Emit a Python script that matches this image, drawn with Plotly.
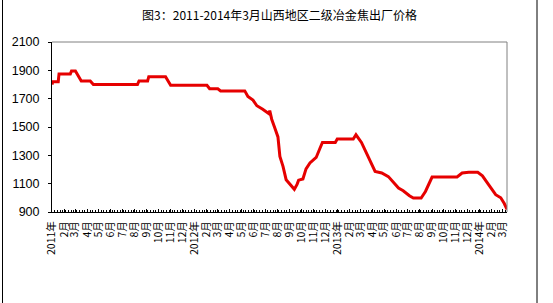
import plotly.graph_objects as go

# ---- data ----
dates = [
    "2011-01-01", "2011-01-03", "2011-01-17", "2011-01-19", "2011-02-17", "2011-02-20",
    "2011-03-02", "2011-03-17", "2011-04-09", "2011-04-17", "2011-08-08", "2011-08-12",
    "2011-09-03", "2011-09-06", "2011-10-19", "2011-11-01", "2012-02-02", "2012-02-09",
    "2012-03-01", "2012-03-08", "2012-05-09", "2012-05-17", "2012-05-30", "2012-06-09",
    "2012-06-24", "2012-07-05", "2012-07-09", "2012-07-12", "2012-07-15", "2012-07-17",
    "2012-07-25", "2012-08-02", "2012-08-07", "2012-08-15", "2012-08-23", "2012-08-31",
    "2012-09-10", "2012-09-13", "2012-09-20", "2012-09-24", "2012-10-05", "2012-10-13",
    "2012-10-23", "2012-11-08", "2012-11-18", "2012-11-24", "2012-12-27", "2013-01-01",
    "2013-02-11", "2013-02-18", "2013-03-04", "2013-03-17", "2013-04-08", "2013-04-25",
    "2013-05-12", "2013-06-07", "2013-06-19", "2013-07-05", "2013-07-15", "2013-08-04",
    "2013-08-15", "2013-09-01", "2013-11-04", "2013-11-17", "2013-12-04", "2013-12-27",
    "2014-01-08", "2014-01-22", "2014-02-11", "2014-02-24", "2014-03-05", "2014-03-12",
]
prices = [
    1800, 1820, 1820, 1875, 1875, 1895,
    1895, 1825, 1825, 1800, 1800, 1825,
    1825, 1855, 1855, 1795, 1795, 1770,
    1770, 1755, 1755, 1716, 1690, 1650,
    1625, 1605, 1595, 1615, 1570, 1555,
    1493, 1430, 1292, 1222, 1128, 1100,
    1062, 1060, 1095, 1125, 1133, 1205,
    1246, 1285, 1352, 1391, 1391, 1415,
    1415, 1445, 1391, 1316, 1186, 1175,
    1150, 1069, 1050, 1015, 999, 999,
    1045, 1147, 1147, 1175, 1180, 1180,
    1155, 1100, 1022, 1000, 960, 918,
]

tick_dates = [
    "2011-01-01", "2011-02-01", "2011-03-01", "2011-04-01", "2011-05-01", "2011-06-01",
    "2011-07-01", "2011-08-01", "2011-09-01", "2011-10-01", "2011-11-01", "2011-12-01",
    "2012-01-01", "2012-02-01", "2012-03-01", "2012-04-01", "2012-05-01", "2012-06-01",
    "2012-07-01", "2012-08-01", "2012-09-01", "2012-10-01", "2012-11-01", "2012-12-01",
    "2013-01-01", "2013-02-01", "2013-03-01", "2013-04-01", "2013-05-01", "2013-06-01",
    "2013-07-01", "2013-08-01", "2013-09-01", "2013-10-01", "2013-11-01", "2013-12-01",
    "2014-01-01", "2014-02-01", "2014-03-01",
]
tick_labels = [
    "2011年", "2月", "3月", "4月", "5月", "6月", "7月", "8月", "9月", "10月", "11月", "12月",
    "2012年", "2月", "3月", "4月", "5月", "6月", "7月", "8月", "9月", "10月", "11月", "12月",
    "2013年", "2月", "3月", "4月", "5月", "6月", "7月", "8月", "9月", "10月", "11月", "12月",
    "2014年", "2月", "3月",
]
y_ticks = [900, 1100, 1300, 1500, 1700, 1900, 2100]

title_text = "图3：2011-2014年3月山西地区二级冶金焦出厂价格"

W, H = 553, 303
L, R, T, B = 52, 46, 42, 91

fig = go.Figure()
fig.add_trace(go.Scatter(
    x=dates, y=prices, mode="lines",
    line=dict(color="#e60000", width=3),
    showlegend=False, hoverinfo="skip",
))

pw = W - L - R
ph = H - T - B
def px_x(p):
    return (p - L) / pw
def px_y(p):
    return (H - B - p) / ph

fig.update_layout(
    width=W, height=H,
    margin=dict(l=L, r=R, t=T, b=B, pad=0),
    paper_bgcolor="white", plot_bgcolor="white",
    font=dict(family="Liberation Sans, Arial, sans-serif", color="black"),
    title=dict(text=title_text, x=0.5, xref="paper", xanchor="center",
               y=1 - 16 / H, yref="container", yanchor="middle",
               font=dict(family="Noto Sans CJK SC", size=12, color="black")),
    xaxis=dict(
        type="date", range=["2011-01-01", "2014-03-12"],
        tickmode="array", tickvals=tick_dates, ticktext=tick_labels,
        tickangle=-90, tickfont=dict(family="Noto Sans CJK SC, Liberation Sans", size=10.5),
        showgrid=False, zeroline=False,
        showline=True, linecolor="black", linewidth=1,
        ticks="inside", ticklen=3, tickcolor="black",
        minor=dict(ticks="inside", ticklen=2, dtick=7 * 86400000, tick0="2011-01-01",
                   tickcolor="black", showgrid=False),
        ticklabelstandoff=4,
    ),
    yaxis=dict(
        range=[900, 2100], tickvals=y_ticks,
        tickfont=dict(size=12.5),
        showgrid=False, zeroline=False,
        showline=True, linecolor="black", linewidth=1,
        ticks="outside", ticklen=3, tickcolor="black",
        ticklabelstandoff=6,
    ),
    shapes=[
        dict(type="line", xref="paper", yref="paper", x0=0, x1=1, y0=1, y1=1,
             line=dict(color="#808080", width=1)),
        dict(type="line", xref="paper", yref="paper", x0=1, x1=1, y0=0, y1=1,
             line=dict(color="#808080", width=1)),
        dict(type="line", xref="paper", yref="paper", x0=px_x(2.5), x1=px_x(2.5),
             y0=px_y(0), y1=px_y(H), line=dict(color="black", width=1)),
        dict(type="line", xref="paper", yref="paper", x0=px_x(537), x1=px_x(537),
             y0=px_y(0), y1=px_y(H), line=dict(color="black", width=1)),
    ],
)

fig.write_html("out.html")
